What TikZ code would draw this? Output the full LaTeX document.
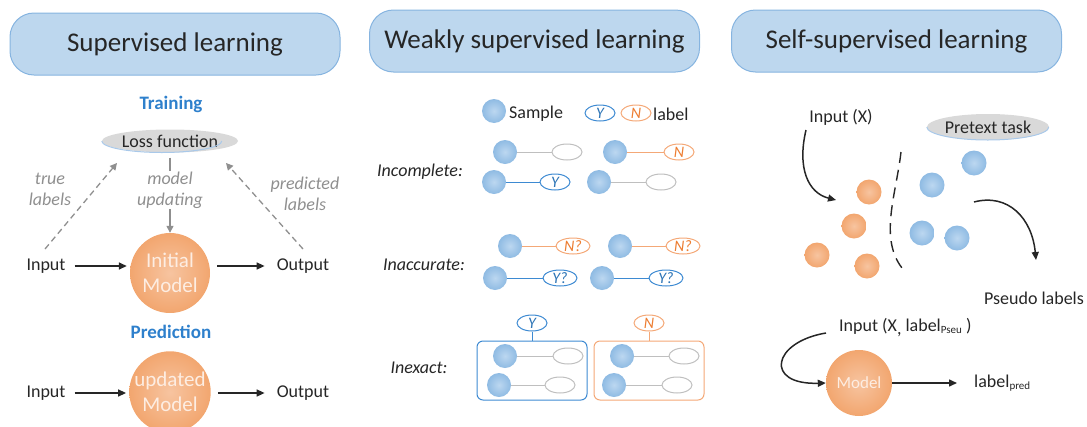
\documentclass[tikz,border=0pt]{standalone}
\usepackage{fontspec}
\setmainfont{Carlito}
\usetikzlibrary{arrows.meta,shapes.geometric}
\definecolor{hdrfill}{HTML}{BDD7EE}
\definecolor{hdrdraw}{HTML}{86B4E0}
\definecolor{ttlblue}{HTML}{2E80CC}
\definecolor{orgfill}{HTML}{F2A66F}
\definecolor{orglight}{HTML}{F7C4A0}
\definecolor{smpblue}{HTML}{8FBBE3}
\definecolor{smplight}{HTML}{BCD7F0}
\definecolor{labblue}{HTML}{3D8AD2}
\definecolor{labblueT}{HTML}{2E75B6}
\definecolor{laborg}{HTML}{F4A877}
\definecolor{laborgT}{HTML}{ED7D31}
\definecolor{lgray}{HTML}{BFBFBF}
\definecolor{dgray}{HTML}{8F8F8F}
\definecolor{lossfill}{HTML}{D9D9D9}
\definecolor{lossedge}{HTML}{A9C9EA}
\definecolor{modtxt}{HTML}{FDEDE2}
\definecolor{ink}{HTML}{262626}
\begin{document}
\begin{tikzpicture}[x=1pt,y=-1pt,
  header/.style={draw=hdrdraw, line width=1pt, fill=hdrfill, rounded corners=24pt,
    minimum width=330pt, minimum height=62pt, font=\fontsize{27}{30}\selectfont, text=ink},
  txt/.style={font=\fontsize{18}{21}\selectfont, text=ink, inner sep=1pt},
  ltxt/.style={font=\fontsize{18}{21}\selectfont\itshape, text=ink, inner sep=1pt},
  gtxt/.style={font=\fontsize{18}{21}\selectfont\itshape, text=dgray, align=center, inner sep=1pt},
  sec/.style={font=\fontsize{19}{22}\selectfont\bfseries, text=ttlblue},
  model/.style={circle, minimum size=80pt, inner sep=0pt, inner color=orglight, outer color=orgfill,
    text=modtxt, font=\fontsize{21}{25}\selectfont, align=center},
  ball/.style={circle, minimum size=24pt, inner sep=0pt, inner color=smplight, outer color=smpblue},
  oball/.style={circle, minimum size=25pt, inner sep=0pt, inner color=orglight, outer color=orgfill},
  lab/.style={ellipse, minimum width=30pt, minimum height=16pt, inner sep=0pt, line width=1pt,
    font=\fontsize{16}{16}\selectfont\itshape},
  glab/.style={lab, draw=lgray},
  blab/.style={lab, draw=labblue, text=labblueT},
  olab/.style={lab, draw=laborg, text=laborgT},
  gline/.style={draw=lgray, line width=1pt},
  bline/.style={draw=labblue, line width=1pt},
  oline/.style={draw=laborg, line width=1pt},
  arr/.style={-{Triangle[length=8pt,width=7pt]}, line width=1.5pt, draw=ink},
  dasharr/.style={-{Triangle[length=7pt,width=7pt]}, dash pattern=on 6pt off 4pt, line width=1.3pt, draw=dgray},
  grayarr/.style={-{Triangle[length=7pt,width=7pt]}, line width=1.3pt, draw=dgray},
  pill/.style={ellipse, fill=lossfill, inner sep=0pt, font=\fontsize{18}{21}\selectfont, text=ink}
]
\useasboundingbox (0,0) rectangle (1087,426);

% ---------------- headers
\node[header] (h1) at (175,44) {Supervised learning};
\node[header] (h2) at (534.5,41) {Weakly supervised learning};
\node[header] (h3) at (896.5,41) {Self-supervised learning};

% ---------------- supervised
\node[sec] (train) at (171,104) {Training};
\node[pill, minimum width=120pt, minimum height=23pt] (loss) at (170,141) {Loss function};
\draw[lossedge, line width=1pt] (loss.west) arc[start angle=180, end angle=360, x radius=60pt, y radius=11.5pt];
\node[gtxt] (mu) at (170,190) {model\\updating};
\node[gtxt] (tl) at (50,189) {true\\labels};
\node[gtxt] (pl) at (305,194) {predicted\\labels};
\node[txt] (in1) at (46,266) {Input};
\node[model] (m1) at (170,273) {Initial\\Model};
\node[txt] (out1) at (303,266) {Output};
\coordinate (tl0) at (45,249);
\coordinate (tl1) at (117,163);
\coordinate (pl0) at (303,249);
\coordinate (pl1) at (226,163);
\draw[dasharr] (tl0) -- (tl1);
\draw[dasharr] (pl0) -- (pl1);
\draw[dgray, line width=1.3pt, shorten <=5pt] (loss.south) -- (mu.north);
\draw[grayarr] (mu.south) -- (m1.north);
\draw[arr, shorten <=8pt, shorten >=3pt] (in1.east) -- (in1.east -| m1.west);
\draw[arr, shorten <=7pt, shorten >=11pt] (out1 -| m1.east) -- (out1.west);

\node[sec] (pred) at (171,332) {Prediction};
\node[txt] (in2) at (46,393) {Input};
\node[model] (m2) at (170,392) {updated\\Model};
\node[txt] (out2) at (303,393) {Output};
\draw[arr, shorten <=8pt, shorten >=3pt] (in2.east) -- (in2.east -| m2.west);
\draw[arr, shorten <=7pt, shorten >=11pt] (out2 -| m2.east) -- (out2.west);

% ---------------- weakly supervised
\node[ball] (lgs) at (494,111) {};
\node[txt, anchor=west] (lgst) at (508,114) {Sample};
\node[blab] (lgy) at (600,113) {Y};
\node[olab] (lgn) at (636,113) {N};
\node[txt, anchor=west] (lgl) at (652,114) {label};

\node[ltxt] (inc) at (420,172) {Incomplete:};
\node[ball] (a1) at (505,152) {};
\node[glab] (a1l) at (567,152) {};
\draw[gline] (a1) -- (a1l);
\node[ball] (a2) at (615,152) {};
\node[olab] (a2l) at (679,152) {N};
\draw[oline] (a2) -- (a2l);
\node[ball] (a3) at (494,182) {};
\node[blab] (a3l) at (555,182) {Y};
\draw[bline] (a3) -- (a3l);
\node[ball] (a4) at (599,182) {};
\node[glab] (a4l) at (661,182) {};
\draw[gline] (a4) -- (a4l);

\node[ltxt] (ina) at (424,265) {Inaccurate:};
\node[ball] (b1) at (510,246) {};
\node[olab, minimum width=34pt] (b1l) at (573,246) {N?};
\draw[oline] (b1) -- (b1l);
\node[ball] (b2) at (620,246) {};
\node[olab, minimum width=34pt] (b2l) at (683,246) {N?};
\draw[oline] (b2) -- (b2l);
\node[ball] (b3) at (495,278) {};
\node[blab, minimum width=34pt] (b3l) at (560,278) {Y?};
\draw[bline] (b3) -- (b3l);
\node[ball] (b4) at (602,278) {};
\node[blab, minimum width=34pt] (b4l) at (666,278) {Y?};
\draw[bline] (b4) -- (b4l);

\node[ltxt] (inx) at (419,368) {Inexact:};
\node[draw=labblue, line width=1pt, rounded corners=6pt, minimum width=110pt, minimum height=59pt] (bx1) at (532,370.5) {};
\node[blab] (bx1l) at (532,323) {Y};
\draw[bline] (bx1l.south) -- (bx1l.south |- bx1.north);
\node[ball] (c1) at (505,356) {};
\node[glab] (c1l) at (568,356) {};
\draw[gline] (c1) -- (c1l);
\node[ball] (c2) at (499,385) {};
\node[glab] (c2l) at (560,385) {};
\draw[gline] (c2) -- (c2l);
\node[draw=laborg, line width=1pt, rounded corners=6pt, minimum width=110pt, minimum height=59pt] (bx2) at (649,370.5) {};
\node[olab] (bx2l) at (649,323) {N};
\draw[oline] (bx2l.south) -- (bx2l.south |- bx2.north);
\node[ball] (d1) at (622,356) {};
\node[glab] (d1l) at (684,356) {};
\draw[gline] (d1) -- (d1l);
\node[ball] (d2) at (614,385) {};
\node[glab] (d2l) at (677,385) {};
\draw[gline] (d2) -- (d2l);

% ---------------- self-supervised
\node[txt] (ix) at (841,117) {Input (X)};
\node[pill, minimum width=122pt, minimum height=26pt] (pt) at (988,127) {Pretext task};
\draw[lossedge, line width=1pt] (pt.west) arc[start angle=180, end angle=360, x radius=61pt, y radius=13pt];
\node[oball] (o1) at (869,192) {};
\node[oball] (o2) at (854,226) {};
\node[oball] (o3) at (817,255) {};
\node[oball] (o4) at (867,266) {};
\node[ball, minimum size=25pt] (u1) at (932,185) {};
\node[ball, minimum size=25pt] (u2) at (974,163) {};
\node[ball, minimum size=25pt] (u3) at (922,233) {};
\node[ball, minimum size=25pt] (u4) at (957,238) {};
\coordinate (ix0) at (806,130);
\coordinate (ix1) at (836,200);
\draw[arr] (ix0) .. controls (797,168) and (808,193) .. (ix1);
\coordinate (dv0) at (901,152);
\coordinate (dv1) at (902,268);
\draw[ink, line width=1.4pt, dash pattern=on 11pt off 7pt] (dv0) .. controls (896,195) and (879,238) .. (dv1);
\coordinate (ps0) at (974,202);
\coordinate (ps1) at (1036,260);
\draw[arr] (ps0) .. controls (1008,193) and (1032,218) .. (ps1);
\node[txt] (pseudo) at (1034,298) {Pseudo labels};
\node[txt, anchor=west] (inp) at (838,328) {Input (X\raisebox{-3pt}{,} label\raisebox{-2pt}{\fontsize{11}{11}\selectfont Pseu} )};
\node[model, minimum size=66pt, font=\fontsize{17}{20}\selectfont] (m3) at (859,383) {Model};
\coordinate (inp0) at (826,333);
\draw[arr] (inp0) .. controls (772,342) and (764,385) .. (m3.west);
\node[txt, anchor=west] (lp) at (973,383) {label\raisebox{-2pt}{\fontsize{11}{11}\selectfont pred}};
\draw[arr, shorten >=16pt] (m3.east) -- (lp.west);
\end{tikzpicture}
\end{document}
